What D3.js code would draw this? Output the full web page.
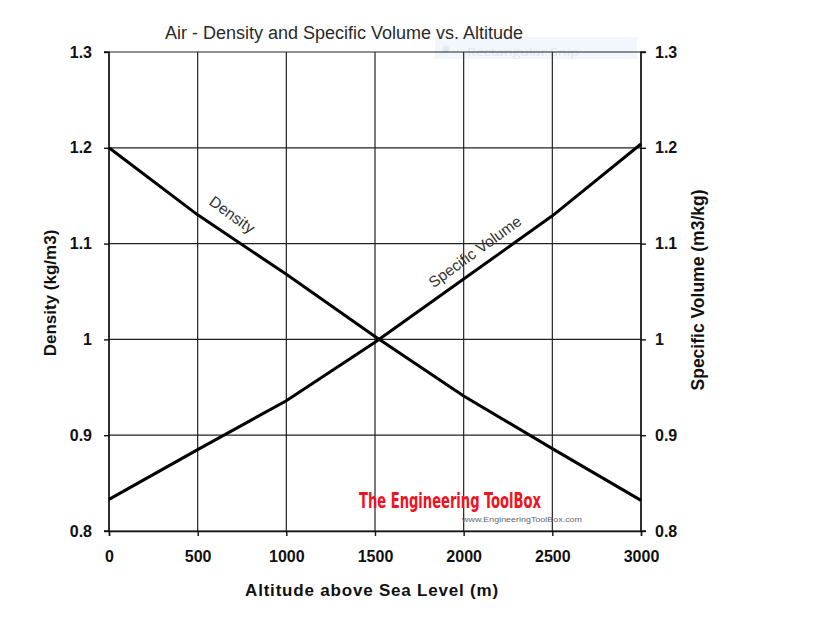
<!DOCTYPE html>
<html><head><meta charset="utf-8">
<script src="https://cdn.jsdelivr.net/npm/d3@7"></script>
<style>
body{margin:0;background:#fff;}
svg{display:block;font-family:"Liberation Sans",Arial,sans-serif;}
</style></head>
<body><svg id="c" width="814" height="621"></svg>
<script>
const altitude = [0, 500, 1000, 1500, 2000, 2500, 3000];
const density = [1.200, 1.130, 1.068, 1.003, 0.941, 0.886, 0.832];
const specificVolume = [0.833, 0.885, 0.936, 0.997, 1.063, 1.129, 1.204];
const xTicks = [0, 500, 1000, 1500, 2000, 2500, 3000];
const yTicks = [0.8, 0.9, 1.0, 1.1, 1.2, 1.3];

const svg = d3.select("#c");
const L = 109, R = 641, T = 52, B = 531;
const x = d3.scaleLinear().domain([0, 3000]).range([L, R]);
const y = d3.scaleLinear().domain([0.8, 1.3]).range([B, T]);

// faint screenshot artifact
svg.append("rect").attr("x",435).attr("y",37).attr("width",202).attr("height",22).attr("fill","#f2f7fd");
svg.append("circle").attr("cx",446).attr("cy",49).attr("r",3.5).attr("fill","#e3e9f0");
svg.append("text").attr("x",467).attr("y",56).attr("font-size",11.5).attr("font-family","Open Sans, sans-serif")
  .attr("fill","#dfe6ee").attr("textLength",112).attr("lengthAdjust","spacingAndGlyphs").text("Rectangular Snip");

// grid
const g = svg.append("g");
g.selectAll("line.v").data(xTicks).join("line")
  .attr("x1",d=>x(d)).attr("x2",d=>x(d)).attr("y1",T).attr("y2",B)
  .attr("stroke","#222").attr("stroke-width",1.2);
g.selectAll("line.h").data(yTicks).join("line")
  .attr("x1",L).attr("x2",R).attr("y1",d=>y(d)).attr("y2",d=>y(d))
  .attr("stroke","#222").attr("stroke-width",1.2);

// axes
const tickFmt = d => d === 1 ? "1" : d3.format(".1f")(d);
const axL = svg.append("g").attr("transform",`translate(${L},0)`)
  .call(d3.axisLeft(y).tickValues(yTicks).tickFormat(tickFmt).tickSize(5).tickPadding(12));
const axR = svg.append("g").attr("transform",`translate(${R},0)`)
  .call(d3.axisRight(y).tickValues(yTicks).tickFormat(tickFmt).tickSize(5).tickPadding(9));
const axB = svg.append("g").attr("transform",`translate(0,${B})`)
  .call(d3.axisBottom(x).tickValues(xTicks).tickFormat(d3.format("d")).tickSize(5).tickPadding(12));
[axL,axR,axB].forEach(a=>{
  a.select(".domain").attr("stroke","#111").attr("stroke-width",1.4);
  a.selectAll(".tick line").attr("stroke","#111").attr("stroke-width",1.4);
  a.selectAll(".tick text").attr("font-size",16).attr("font-weight","bold").attr("fill","#111")
   .attr("font-family","Liberation Sans, Arial, sans-serif");
});
axL.select(".domain").attr("d",`M-5,${B}H0V${T}H-5`);
axR.select(".domain").attr("d",`M5,${B}H0V${T}H5`);
axB.selectAll(".tick text").attr("dy","0.85em");

// lines
const line = d3.line().x((d,i)=>x(altitude[i])).y(d=>y(d));
svg.append("path").datum(density).attr("d",line).attr("fill","none").attr("stroke","#000").attr("stroke-width",3);
svg.append("path").datum(specificVolume).attr("d",line).attr("fill","none").attr("stroke","#000").attr("stroke-width",3);

// line labels
svg.append("text").attr("transform","translate(229,219) rotate(36)").attr("text-anchor","middle")
  .attr("font-size",15.5).attr("fill","#333").text("Density");
svg.append("text").attr("transform","translate(478,256) rotate(-36)").attr("text-anchor","middle")
  .attr("font-size",15.5).attr("fill","#333").text("Specific Volume");

// title
svg.append("text").attr("x",344).attr("y",39).attr("text-anchor","middle")
  .attr("font-size",18).attr("fill","#2a2a2a").text("Air - Density and Specific Volume vs. Altitude");

// axis titles
svg.append("text").attr("x",372).attr("y",596).attr("text-anchor","middle")
  .attr("font-size",17).attr("font-weight","bold").attr("fill","#111").attr("letter-spacing","0.8")
  .text("Altitude above Sea Level (m)");
svg.append("text").attr("transform","translate(56,293) rotate(-90)").attr("text-anchor","middle")
  .attr("font-size",17).attr("font-weight","bold").attr("fill","#111").text("Density (kg/m3)");
svg.append("text").attr("transform","translate(704,290) rotate(-90)").attr("text-anchor","middle")
  .attr("font-size",17.5).attr("font-weight","bold").attr("fill","#111").text("Specific Volume (m3/kg)");

// watermark
svg.append("text").attr("x",450).attr("y",508).attr("text-anchor","middle")
  .attr("font-size",21).attr("font-weight","bold").attr("fill","#f0121e")
  .attr("font-family","DejaVu Sans Condensed, Liberation Sans Narrow, sans-serif")
  .attr("textLength",182).attr("lengthAdjust","spacingAndGlyphs")
  .text("The Engineering ToolBox");
svg.append("text").attr("x",522).attr("y",522).attr("text-anchor","middle")
  .attr("font-size",7).attr("fill","#666").attr("textLength",120).attr("lengthAdjust","spacingAndGlyphs")
  .text("www.EngineeringToolBox.com");
</script></body></html>
